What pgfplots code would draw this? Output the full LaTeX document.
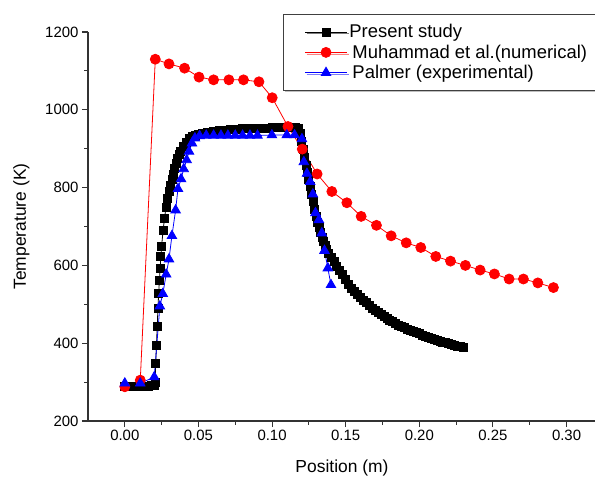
\documentclass[border=0pt]{standalone}
\usepackage{pgfplots}
\pgfplotsset{compat=1.18}
\usepackage{fontspec}
\setmainfont{Liberation Sans}
\usetikzlibrary{shadows}
\begin{document}
\begin{tikzpicture}
\begin{axis}[
  name=ax,
  scale only axis,
  width=508bp, height=389bp,
  xmin=-0.025, xmax=0.32,
  ymin=200, ymax=1200,
  axis lines=left,
  axis line style={-, line width=1.3bp, black!80},
  tick style={line width=1.1bp, black!80},
  tick align=outside,
  major tick length=6bp,
  minor tick length=3.5bp,
  xtick={0,0.05,0.10,0.15,0.20,0.25,0.30},
  ytick={200,400,600,800,1000,1200},
  minor x tick num=1,
  minor y tick num=1,
  /pgf/number format/assume math mode=true,
  xticklabel style={/pgf/number format/.cd, fixed, fixed zerofill, precision=2},
  yticklabel style={/pgf/number format/.cd, fixed, 1000 sep={}},
  ticklabel style={font=\fontsize{15}{18}\selectfont},
  label style={font=\fontsize{17.5}{21}\selectfont},
  xlabel={Position (m)},
  ylabel={Temperature (K)},
  xlabel style={yshift=-12bp},
  ylabel style={yshift=9bp},
  legend style={
    at={(0.384,1.046)}, anchor=north west,
    draw=black!75, line width=1.1bp, fill=white,
    font=\fontsize{18.5}{22}\selectfont,
    cells={anchor=west},
    inner xsep=21bp, inner ysep=8bp,
    row sep=1.5bp,
    drop shadow={shadow xshift=1.5bp, shadow yshift=-1.5bp, fill=black!50},
  },
  legend image code/.code={
    \draw[mark repeat=2,mark phase=2] plot coordinates {(0bp,0bp)(21bp,0bp)(42bp,0bp)};
  },
]
% Present study
\addplot[black, line width=0.8bp, mark=square*, mark size=4bp, mark options={solid}] coordinates {
(0.000,290)(0.002,290)(0.004,290)(0.006,290)(0.008,290)(0.010,290)(0.012,290)(0.014,290)(0.016,290)(0.018,291)(0.0200,292)
(0.0205,298)(0.0210,349)(0.0215,395)(0.0220,442)(0.0225,490)(0.0230,529)(0.0235,562)(0.0240,593)(0.0245,622)
(0.025,650)(0.026,690)(0.027,722)(0.028,750)(0.029,772)(0.030,790)(0.031,805)(0.032,820)(0.033,835)(0.034,850)
(0.035,862)(0.036,875)(0.037,885)(0.038,893)(0.040,906)(0.042,917)(0.044,926)(0.046,931)(0.048,935)(0.050,938)
(0.053,940)(0.056,942)(0.060,944)(0.064,946)(0.068,948)(0.072,949)(0.076,950)(0.080,951)(0.084,952)(0.088,952)
(0.092,953)(0.096,953)(0.100,954)(0.104,954)(0.108,955)(0.112,955)(0.116,955)(0.118,953)
(0.119,940)(0.120,920)(0.121,898)(0.122,878)(0.123,858)(0.124,839)(0.125,820)(0.126,802)(0.127,783)(0.128,764)
(0.129,745)(0.130,726)(0.131,711)(0.132,697)(0.133,684)(0.134,672)(0.135,661)(0.136,651)(0.137,641)(0.138,632)
(0.140,621)(0.142,609)(0.144,598)(0.146,587)(0.148,576)(0.150,565)(0.152,552)(0.154,541)(0.156,533)(0.158,525)
(0.160,518)(0.162,511)(0.164,504)(0.166,497)(0.168,490)(0.170,484)(0.172,479)(0.174,474)(0.176,469)(0.178,464)
(0.180,459)(0.182,455)(0.184,451)(0.186,447)(0.188,443)(0.190,440)(0.192,436)(0.194,433)(0.196,430)(0.198,427)
(0.200,424)(0.202,421)(0.204,418)(0.206,415)(0.208,412)(0.210,410)(0.212,408)(0.214,405)(0.216,403)(0.218,401)
(0.220,399)(0.222,397)(0.224,395)(0.226,393)(0.228,391)(0.230,389)
};
\addlegendentry{Present study}
% Muhammad et al. (numerical)
\addplot[red, line width=0.8bp, mark=*, mark size=5bp, mark options={solid, fill=red}] coordinates {
(0.000,288)(0.0105,305)(0.0207,1130)(0.0300,1118)(0.0406,1107)(0.0504,1084)(0.0603,1077)(0.0707,1077)(0.0806,1077)
(0.0911,1072)(0.1001,1031)(0.1108,957)(0.1205,899)(0.1306,835)(0.1406,790)(0.1508,761)(0.1605,726)(0.1709,703)
(0.1809,676)(0.1911,658)(0.2010,646)(0.2112,623)(0.2212,611)(0.2313,600)(0.2413,588)(0.2510,578)(0.2610,565)
(0.2707,565)(0.2805,555)(0.2911,543)
};
\addlegendentry{\,Muhammad et al.(numerical)}
% Palmer (experimental)
\addplot[blue, line width=0.8bp, mark=triangle*, mark size=5.5bp, mark options={solid, fill=blue}] coordinates {
(0.000,297)(0.0105,297)(0.0200,313)(0.0238,495)(0.0258,527)(0.0281,577)(0.0300,616)(0.0320,676)(0.0345,742)
(0.0361,797)(0.0382,822)(0.0400,848)(0.0420,871)(0.0436,893)(0.0456,914)(0.0476,927)(0.0508,933)
(0.0553,934)(0.0603,934)(0.0653,934)(0.0700,934)(0.0750,934)(0.0800,934)(0.0850,934)(0.0901,934)
(0.0999,935)(0.1100,935)(0.1153,935)(0.1203,925)(0.1216,866)(0.1237,836)(0.1259,815)(0.1277,783)(0.1295,735)
(0.1318,717)(0.1338,683)(0.1356,638)(0.1379,593)(0.1400,550)
};
\addlegendentry{\,Palmer (experimental)}
\end{axis}
\pgfresetboundingbox
\useasboundingbox ([shift={(-88bp,-61bp)}]ax.south west) rectangle ++(595bp,482bp);
\end{tikzpicture}
\end{document}
